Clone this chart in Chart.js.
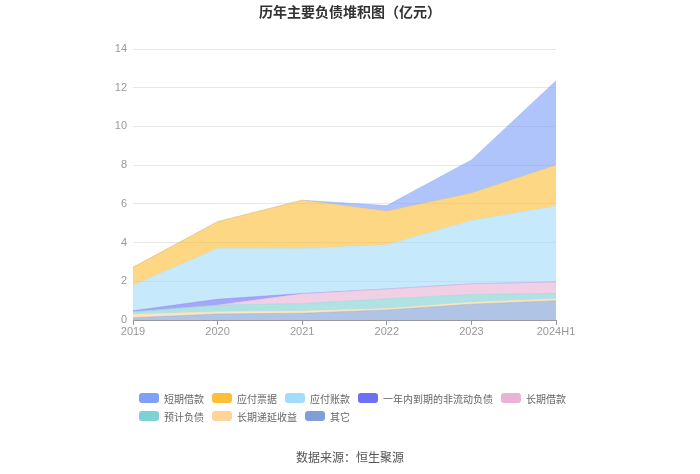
<!DOCTYPE html>
<html>
<head>
<meta charset="utf-8">
<script src="https://cdn.jsdelivr.net/npm/chart.js@4.4.1/dist/chart.umd.min.js"></script>
<style>
  html, body { margin: 0; padding: 0; background: #fff; }
  body { font-family: "Noto Sans CJK SC", "Noto Sans", sans-serif; }
  #wrap { position: relative; width: 700px; height: 474px; }
  #chart { position: absolute; left: 0; top: 0; }
  .title { position: absolute; left: 0; top: 1px; width: 700px; text-align: center;
           font-size: 14px; font-weight: bold; color: #333; line-height: 20px; }
  .source { position: absolute; left: 0; top: 448px; width: 700px; text-align: center;
            font-size: 12px; color: #555; line-height: 18px; }
  #legend { position: absolute; left: 139px; top: 389px; width: 440px;
            display: flex; flex-wrap: wrap; }
  .item { display: flex; align-items: center; height: 18px; margin-right: 8px;
          font-size: 10px; color: #666; }
  .box { width: 20px; height: 10px; border-radius: 3px; margin-right: 5px; }
</style>
</head>
<body>
<div id="wrap">
  <canvas id="chart" width="700" height="474"></canvas>
  <div class="title">历年主要负债堆积图（亿元）</div>
  <div id="legend"></div>
  <div class="source">数据来源：恒生聚源</div>
</div>
<script>
const years = ["2019", "2020", "2021", "2022", "2023", "2024H1"];

// stacked bottom -> top
const qita        = [0.12, 0.31, 0.35, 0.52, 0.82, 1.00]; // 其它
const diyanShouyi = [0.18, 0.12, 0.12, 0.08, 0.10, 0.10]; // 长期递延收益
const yujiFuzhai  = [0.13, 0.34, 0.38, 0.50, 0.40, 0.28]; // 预计负债
const changqiJie  = [0.00, 0.00, 0.50, 0.50, 0.55, 0.58]; // 长期借款
const yinianDaoqi = [0.05, 0.30, 0.02, 0.00, 0.00, 0.00]; // 一年内到期的非流动负债
const yingfuZhang = [1.32, 2.63, 2.32, 2.29, 3.27, 3.93]; // 应付账款
const yingfuPiao  = [0.92, 1.38, 2.50, 1.73, 1.41, 2.11]; // 应付票据
const duanqiJie   = [0.00, 0.00, 0.00, 0.29, 1.72, 4.36]; // 短期借款

const series = [
  { label: "其它", data: qita, color: "#7f9fd6" },
  { label: "长期递延收益", data: diyanShouyi, color: "#fdd49a" },
  { label: "预计负债", data: yujiFuzhai, color: "#7fd1d3" },
  { label: "长期借款", data: changqiJie, color: "#e9b3d6" },
  { label: "一年内到期的非流动负债", data: yinianDaoqi, color: "#6e6ff2" },
  { label: "应付账款", data: yingfuZhang, color: "#a5dbfa" },
  { label: "应付票据", data: yingfuPiao, color: "#fdbf3a" },
  { label: "短期借款", data: duanqiJie, color: "#7ea0f7" },
];

// legend order as shown in the picture
const legendOrder = ["短期借款", "应付票据", "应付账款", "一年内到期的非流动负债",
                     "长期借款", "预计负债", "长期递延收益", "其它"];

function withAlpha(hex, a) {
  const n = parseInt(hex.slice(1), 16);
  return `rgba(${(n >> 16) & 255}, ${(n >> 8) & 255}, ${n & 255}, ${a})`;
}

const datasets = series.map((s, i) => ({
  label: s.label,
  data: s.data,
  fill: i === 0 ? "origin" : "-1",
  backgroundColor: withAlpha(s.color, 0.62),
  borderColor: withAlpha(s.color, 0.35),
  borderWidth: 1,
  pointRadius: 0,
  tension: 0,
}));

new Chart(document.getElementById("chart"), {
  type: "line",
  data: { labels: years, datasets: datasets },
  options: {
    responsive: false,
    animation: false,
    layout: { padding: { left: 103, right: 144, top: 49, bottom: 134 } },
    plugins: {
      legend: { display: false },
      title: { display: false },
      tooltip: { enabled: false },
    },
    scales: {
      x: {
        offset: false,
        grid: { drawOnChartArea: false, drawTicks: true, tickLength: 5, color: "#999" },
        border: { color: "#999" },
        ticks: { color: "#999", font: { size: 11 }, padding: 0, maxRotation: 0 },
        afterFit: (scale) => { scale.height = 20; },
      },
      y: {
        stacked: true,
        min: 0,
        max: 14,
        ticks: { stepSize: 2, color: "#999", font: { size: 11 }, padding: 6 },
        grid: { color: "#e8e8e8", drawTicks: false },
        border: { display: false },
        afterFit: (scale) => { scale.width = 30; },
      },
    },
  },
});

// HTML legend built from the same series
const legendEl = document.getElementById("legend");
legendOrder.forEach((name) => {
  const s = series.find((x) => x.label === name);
  const item = document.createElement("div");
  item.className = "item";
  item.innerHTML = `<span class="box" style="background:${s.color}"></span><span>${s.label}</span>`;
  legendEl.appendChild(item);
});
</script>
</body>
</html>
